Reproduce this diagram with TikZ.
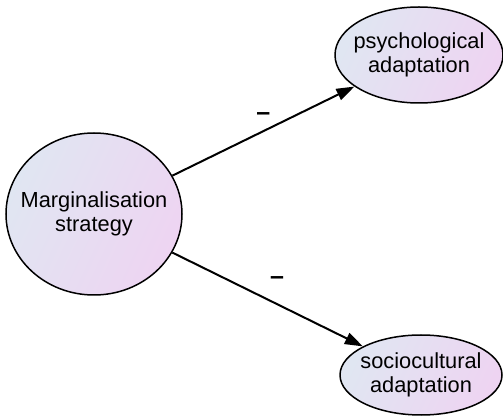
\documentclass[tikz,border=0pt]{standalone}
\usepackage{fontspec}
\setmainfont{Liberation Sans}
\usetikzlibrary{shapes.geometric,arrows.meta}

\definecolor{nodeblue}{RGB}{224,230,242}
\definecolor{nodepink}{RGB}{238,212,242}

\tikzset{
	latent/.style={ellipse, draw, line width=0.75pt, inner sep=0pt,
		top color=nodeblue, bottom color=nodepink, shading angle=65},
	caption/.style={align=center, inner sep=0pt,
		font=\fontsize{10.9}{12}\selectfont},
	effect/.style={-{Triangle[length=9pt,width=6pt]}, line width=1pt},
	sign/.style={font=\fontsize{12.5}{12}\selectfont\bfseries, inner sep=0pt}
}

\begin{document}
\begin{tikzpicture}[x=0.5pt, y=-0.5pt]
		\useasboundingbox (0, 0) rectangle (503, 416);
	
		% constructs
		\node[latent, minimum width=88pt, minimum height=81pt,
			label={[caption]center:{Marginalisation\\strategy}}] (strategy) at (94, 214) {};
		\node[latent, minimum width=84pt, minimum height=48pt,
			label={[caption]center:{psychological\\adaptation}}] (psych) at (419, 55) {};
		\node[latent, minimum width=81pt, minimum height=40pt,
			label={[caption]center:{sociocultural\\adaptation}}] (socio) at (421, 375) {};
	
		% effects
		\draw[effect] (strategy) -- node[sign, midway, yshift=7.5pt] (signpsych) {--} (psych);
		\draw[effect] (strategy) -- node[sign, midway, xshift=4.75pt, yshift=9.5pt] (signsocio) {--} (socio);
	\end{tikzpicture}
\end{document}
